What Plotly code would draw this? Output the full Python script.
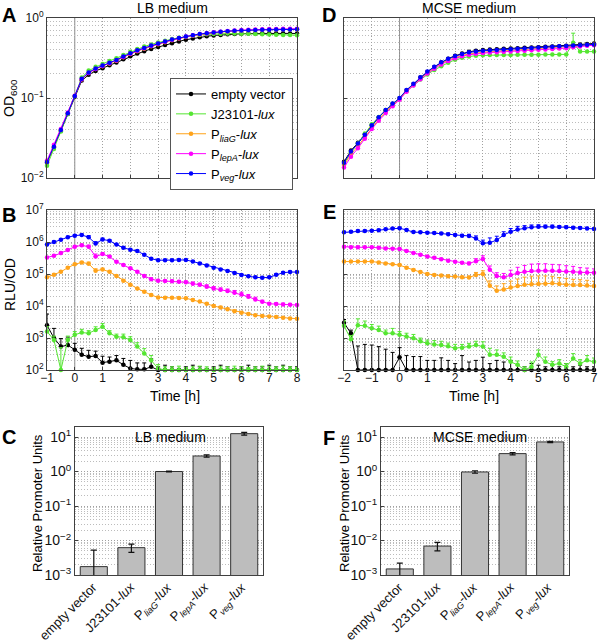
import numpy as np
import plotly.graph_objects as go

# ---------------- data ----------------
t_lb = np.arange(-1, 8.001, 0.25)   # LB medium time [h]
t_mc = np.arange(-2, 7.001, 0.25)   # MCSE medium time [h]

strains = ["empty vector", "J23101-<i>lux</i>", "P<sub><i>liaG</i></sub>-<i>lux</i>",
           "P<sub><i>lepA</i></sub>-<i>lux</i>", "P<sub><i>veg</i></sub>-<i>lux</i>"]
colors = ["#000000", "#55e632", "#ffa31a", "#ff00ff", "#0000ff"]

# OD600, LB
od_lb_empty = [0.0155, 0.024, 0.039, 0.063, 0.104, 0.165, 0.195, 0.218, 0.236, 0.256,
               0.278, 0.305, 0.333, 0.36, 0.385, 0.41, 0.435, 0.46, 0.485, 0.51,
               0.535, 0.555, 0.575, 0.59, 0.605, 0.615, 0.625, 0.63, 0.635, 0.64,
               0.642, 0.643, 0.644, 0.644, 0.643, 0.642, 0.64]
od_lb_j23101 = [0.0142, 0.023, 0.038, 0.063, 0.106, 0.18, 0.22, 0.245, 0.267, 0.29,
                0.315, 0.345, 0.378, 0.41, 0.44, 0.468, 0.495, 0.52, 0.545, 0.565,
                0.585, 0.6, 0.615, 0.625, 0.632, 0.636, 0.638, 0.638, 0.636, 0.634,
                0.63, 0.626, 0.622, 0.618, 0.615, 0.612, 0.61]
od_lb_liag = [0.0158, 0.025, 0.040, 0.065, 0.107, 0.172, 0.205, 0.23, 0.25, 0.27,
              0.293, 0.323, 0.355, 0.385, 0.413, 0.442, 0.47, 0.498, 0.527, 0.553,
              0.58, 0.602, 0.623, 0.64, 0.655, 0.668, 0.68, 0.69, 0.698, 0.705,
              0.71, 0.715, 0.718, 0.72, 0.722, 0.724, 0.725]
od_lb_lepa = [0.0165, 0.026, 0.041, 0.066, 0.107, 0.172, 0.206, 0.231, 0.251, 0.272,
              0.295, 0.326, 0.358, 0.389, 0.418, 0.447, 0.475, 0.503, 0.533, 0.559,
              0.586, 0.608, 0.629, 0.646, 0.662, 0.675, 0.688, 0.698, 0.706, 0.713,
              0.718, 0.723, 0.727, 0.73, 0.732, 0.734, 0.735]
od_lb_veg = [0.0158, 0.0245, 0.0398, 0.0646, 0.106, 0.174, 0.209, 0.234, 0.254, 0.275,
             0.299, 0.331, 0.363, 0.394, 0.422, 0.452, 0.479, 0.507, 0.537, 0.562,
             0.589, 0.610, 0.631, 0.646, 0.661, 0.673, 0.684, 0.692, 0.700, 0.705,
             0.708, 0.711, 0.714, 0.716, 0.718, 0.719, 0.721]

# OD600, MCSE
od_mc_empty = [0.016, 0.022, 0.0275, 0.035, 0.046, 0.057, 0.07, 0.084, 0.099, 0.124,
               0.149, 0.18, 0.212, 0.244, 0.278, 0.31, 0.338, 0.36, 0.378, 0.39,
               0.398, 0.404, 0.408, 0.412, 0.416, 0.42, 0.424, 0.428, 0.432, 0.436,
               0.44, 0.445, 0.45, 0.458, 0.466, 0.474, 0.48]
od_mc_j23101 = [0.015, 0.021, 0.027, 0.036, 0.047, 0.058, 0.071, 0.085, 0.099, 0.122,
                0.144, 0.17, 0.197, 0.224, 0.25, 0.276, 0.3, 0.318, 0.33, 0.338,
                0.342, 0.344, 0.344, 0.345, 0.345, 0.346, 0.347, 0.348, 0.348, 0.349,
                0.35, 0.35, 0.351, 0.49, 0.38, 0.38, 0.38]
od_mc_liag = [0.0145, 0.0198, 0.025, 0.0325, 0.043, 0.054, 0.067, 0.081, 0.097, 0.122,
              0.146, 0.176, 0.207, 0.238, 0.27, 0.298, 0.322, 0.34, 0.355, 0.366,
              0.373, 0.378, 0.383, 0.387, 0.391, 0.395, 0.4, 0.405, 0.41, 0.415,
              0.42, 0.426, 0.432, 0.44, 0.45, 0.46, 0.468]
od_mc_lepa = [0.0135, 0.0185, 0.0235, 0.031, 0.041, 0.052, 0.065, 0.079, 0.095, 0.12,
              0.143, 0.172, 0.202, 0.232, 0.263, 0.29, 0.313, 0.332, 0.347, 0.357,
              0.365, 0.37, 0.374, 0.378, 0.382, 0.386, 0.39, 0.395, 0.4, 0.405,
              0.41, 0.415, 0.42, 0.43, 0.44, 0.45, 0.458]
od_mc_veg = [0.0155, 0.0214, 0.0269, 0.0347, 0.0457, 0.0575, 0.0708, 0.0851, 0.1, 0.126,
             0.151, 0.182, 0.214, 0.245, 0.279, 0.309, 0.335, 0.355, 0.372, 0.382,
             0.389, 0.394, 0.398, 0.403, 0.407, 0.412, 0.417, 0.422, 0.427, 0.432,
             0.437, 0.442, 0.447, 0.452, 0.457, 0.462, 0.468]
err_od_mc_j23101 = [0, 0, 0, 0, 0, 0, 0, 0, 0, 0, 0, 0, 0, 0, 0, 0, 0, 0, 0, 0,
                    0, 0, 0, 0, 0, 0, 0, 0, 0, 0, 0, 0, 0, 0.12, 0, 0, 0]

# RLU/OD, LB
rlu_lb_empty = [2500, 1000, 540, 600, 430, 300, 260, 275, 170, 180,
                200, 145, 112, 105, 105, 126, 100, 100, 100, 100,
                100, 100, 100, 100, 100, 100, 100, 100, 100, 100,
                100, 100, 100, 100, 100, 100, 100]
rlu_lb_j23101 = [1600, 870, 100, 870, 1260, 1480, 1410, 1780, 2240, 1410,
                 1100, 1050, 870, 540, 330, 200, 112, 100, 100, 100,
                 100, 100, 100, 100, 100, 100, 100, 100, 100, 100,
                 100, 100, 100, 100, 100, 100, 100]
rlu_lb_liag = [7.9e4, 9.5e4, 1.17e5, 1.58e5, 2.0e5, 2.3e5, 2.1e5, 1.26e5, 1.38e5, 1.17e5,
               8.7e4, 6.2e4, 4.6e4, 3.5e4, 2.8e4, 2.2e4, 1.86e4, 1.82e4, 1.82e4, 1.78e4,
               1.74e4, 1.55e4, 1.38e4, 1.17e4, 1.0e4, 8.9e3, 7.9e3, 6.9e3, 6.2e3, 5.6e3,
               5.1e3, 4.9e3, 4.7e3, 4.5e3, 4.3e3, 4.1e3, 4.0e3]
rlu_lb_lepa = [3.3e5, 3.7e5, 4.5e5, 5.6e5, 7.1e5, 7.9e5, 7.1e5, 3.5e5, 4.2e5, 3.5e5,
               2.4e5, 1.9e5, 1.5e5, 1.17e5, 8.7e4, 6.9e4, 6.2e4, 6.0e4, 5.9e4, 5.75e4,
               5.5e4, 5.0e4, 4.6e4, 4.0e4, 3.5e4, 3.2e4, 2.95e4, 2.6e4, 2.3e4, 1.95e4,
               1.6e4, 1.35e4, 1.17e4, 1.15e4, 1.12e4, 1.1e4, 1.07e4]
rlu_lb_veg = [8.3e5, 1.0e6, 1.17e6, 1.41e6, 1.58e6, 1.66e6, 1.41e6, 8.9e5, 1.2e6, 1.1e6,
              8.3e5, 6.6e5, 5.75e5, 5.25e5, 4.0e5, 3.0e5, 2.7e5, 2.7e5, 2.7e5, 2.75e5,
              2.75e5, 2.45e5, 2.14e5, 1.86e5, 1.58e5, 1.38e5, 1.23e5, 1.07e5, 9.3e4, 8.5e4,
              7.9e4, 7.6e4, 7.9e4, 9.5e4, 1.1e5, 1.15e5, 1.15e5]
# upper error bars, in decades above the value
err_rlu_lb_empty = [0.35, 0.3, 0.25, 0.25, 0.2, 0.2, 0.2, 0.15, 0.2, 0.15,
                    0.15, 0.2, 0.25, 0.2, 0.2, 0.25, 0.1, 0.15, 0.1, 0.05,
                    0.1, 0.15, 0.1, 0.05, 0.1, 0.15, 0.1, 0.05, 0.1, 0.15,
                    0.1, 0.1, 0.15, 0.1, 0.15, 0.1, 0.1]
err_rlu_lb_j23101 = [0.15, 0.12, 0.7, 0.12, 0.1, 0.1, 0.08, 0.1, 0.1, 0.08,
                     0.08, 0.1, 0.1, 0.12, 0.15, 0.15, 0.12, 0.1, 0.1, 0.12,
                     0.08, 0.1, 0.12, 0.1, 0.08, 0.1, 0.1, 0.12, 0.1, 0.08,
                     0.1, 0.12, 0.1, 0.1, 0.12, 0.1, 0.08]
err_rlu_lb_liag = [0.03, 0.03, 0.03, 0.03, 0.03, 0.03, 0.05, 0.06, 0.04, 0.03,
                   0.03, 0.03, 0.03, 0.03, 0.03, 0.03, 0.03, 0.03, 0.03, 0.03,
                   0.03, 0.03, 0.03, 0.03, 0.04, 0.04, 0.04, 0.04, 0.04, 0.03,
                   0.03, 0.03, 0.03, 0.03, 0.03, 0.03, 0.03]
err_rlu_lb_lepa = [0.03, 0.03, 0.03, 0.03, 0.03, 0.03, 0.05, 0.08, 0.04, 0.03,
                   0.03, 0.03, 0.03, 0.03, 0.03, 0.04, 0.04, 0.04, 0.04, 0.04,
                   0.04, 0.05, 0.05, 0.06, 0.06, 0.06, 0.06, 0.07, 0.07, 0.07,
                   0.07, 0.05, 0.04, 0.04, 0.04, 0.04, 0.03]
err_rlu_lb_veg = [0.03, 0.03, 0.03, 0.03, 0.03, 0.03, 0.05, 0.06, 0.04, 0.03,
                  0.03, 0.03, 0.03, 0.03, 0.03, 0.03, 0.03, 0.03, 0.03, 0.03,
                  0.03, 0.03, 0.03, 0.03, 0.03, 0.03, 0.03, 0.03, 0.03, 0.03,
                  0.03, 0.03, 0.03, 0.03, 0.03, 0.03, 0.03]

# RLU/OD, MCSE
rlu_mc_empty = [3000, 1400, 100, 100, 100, 100, 100, 100, 250, 100,
                100, 100, 100, 100, 100, 100, 100, 100, 100, 100,
                100, 100, 100, 100, 100, 100, 100, 100, 100, 100,
                100, 100, 100, 100, 100, 100, 100]
rlu_mc_j23101 = [2400, 910, 2500, 2400, 2000, 1780, 1410, 1410, 1260, 1120,
                 980, 790, 680, 630, 600, 550, 480, 500, 540, 600,
                 540, 300, 300, 260, 180, 145, 100, 126, 300, 180,
                 145, 160, 126, 230, 160, 200, 180]
rlu_mc_liag = [2.45e5, 2.45e5, 2.45e5, 2.45e5, 2.45e5, 2.3e5, 2.14e5, 2.0e5, 1.9e5, 1.58e5,
               1.33e5, 1.15e5, 1.0e5, 9.3e4, 8.9e4, 8.5e4, 8.3e4, 7.9e4, 7.8e4, 9.3e4,
               1.0e5, 4.3e4, 3.0e4, 3.3e4, 3.8e4, 4.2e4, 4.6e4, 4.8e4, 4.9e4, 5.0e4,
               5.1e4, 4.9e4, 4.6e4, 4.5e4, 4.5e4, 4.4e4, 4.2e4]
rlu_mc_lepa = [7.1e5, 6.9e5, 6.9e5, 6.8e5, 6.8e5, 6.6e5, 6.3e5, 6.2e5, 6.0e5, 5.25e5,
               4.5e5, 4.0e5, 3.5e5, 3.2e5, 2.9e5, 2.6e5, 2.4e5, 2.24e5, 2.14e5, 2.5e5,
               2.95e5, 1.35e5, 8.7e4, 7.9e4, 9.3e4, 1.07e5, 1.17e5, 1.23e5, 1.26e5, 1.26e5,
               1.26e5, 1.23e5, 1.2e5, 1.17e5, 1.12e5, 1.11e5, 1.1e5]
rlu_mc_veg = [2.0e6, 2.1e6, 2.2e6, 2.2e6, 2.24e6, 2.34e6, 2.5e6, 2.63e6, 2.7e6, 2.37e6,
              2.04e6, 2.0e6, 1.95e6, 1.9e6, 1.86e6, 1.76e6, 1.66e6, 1.58e6, 1.55e6, 1.29e6,
              9.1e5, 9.5e5, 1.15e6, 1.66e6, 2.1e6, 2.45e6, 2.7e6, 2.9e6, 3.0e6, 3.0e6,
              3.0e6, 2.95e6, 2.9e6, 2.8e6, 2.75e6, 2.63e6, 2.57e6]
err_rlu_mc_empty = [0.1, 0.1, 0.75, 0.8, 0.78, 0.73, 0.65, 0.55, 0.3, 0.45,
                    0.42, 0.42, 0.3, 0.3, 0.38, 0.3, 0.2, 0.45, 0.25, 0.3,
                    0.4, 0.2, 0.3, 0.25, 0.3, 0.15, 0.1, 0.2, 0.15, 0.1,
                    0.15, 0.1, 0.2, 0.1, 0.15, 0.1, 0.1]
err_rlu_mc_j23101 = [0.15, 0.12, 0.2, 0.15, 0.12, 0.12, 0.1, 0.15, 0.1, 0.1,
                     0.12, 0.1, 0.1, 0.12, 0.12, 0.1, 0.12, 0.1, 0.1, 0.12,
                     0.15, 0.2, 0.15, 0.12, 0.15, 0.12, 0.1, 0.15, 0.15, 0.15,
                     0.1, 0.12, 0.1, 0.15, 0.12, 0.15, 0.12]
err_rlu_mc_liag = [0.03, 0.03, 0.03, 0.03, 0.03, 0.03, 0.03, 0.03, 0.03, 0.03,
                   0.03, 0.03, 0.03, 0.03, 0.03, 0.03, 0.03, 0.03, 0.04, 0.08,
                   0.1, 0.15, 0.15, 0.18, 0.2, 0.22, 0.24, 0.25, 0.25, 0.24,
                   0.22, 0.2, 0.2, 0.18, 0.17, 0.16, 0.15]
err_rlu_mc_lepa = [0.03, 0.03, 0.03, 0.03, 0.03, 0.03, 0.03, 0.03, 0.03, 0.03,
                   0.03, 0.03, 0.03, 0.03, 0.03, 0.03, 0.03, 0.03, 0.04, 0.08,
                   0.1, 0.12, 0.1, 0.12, 0.15, 0.18, 0.2, 0.22, 0.22, 0.22,
                   0.2, 0.2, 0.18, 0.17, 0.15, 0.14, 0.12]
err_rlu_mc_veg = [0.03, 0.03, 0.03, 0.03, 0.03, 0.03, 0.03, 0.03, 0.03, 0.03,
                  0.03, 0.03, 0.03, 0.03, 0.03, 0.03, 0.03, 0.04, 0.05, 0.08,
                  0.1, 0.15, 0.12, 0.1, 0.1, 0.1, 0.08, 0.07, 0.06, 0.05,
                  0.05, 0.04, 0.04, 0.04, 0.04, 0.04, 0.03]

# Relative promoter units (bar charts)
bar_labels = ["empty vector", "J23101-<i>lux</i>", "P<sub><i>liaG</i></sub>-<i>lux</i>",
              "P<sub><i>lepA</i></sub>-<i>lux</i>", "P<sub><i>veg</i></sub>-<i>lux</i>"]
rpu_lb = [1.75e-3, 6.2e-3, 1.0, 2.82, 12.5]
rpu_lb_err = [3.5e-3, 1.7e-3, 0.03, 0.2, 1.2]
rpu_mc = [1.5e-3, 6.9e-3, 0.97, 3.3, 7.2]
rpu_mc_err = [0.7e-3, 1.9e-3, 0.08, 0.25, 0.3]

# ---------------- layout helpers ----------------
W, H = 600, 642
FONT = "Liberation Sans, Arial, Helvetica, sans-serif"
GRID = "#a0a0a0"
MINOR = "#bcbcbc"
DOT = "1px,2px"
FRAME = "#404040"


def px_x(a, b):
    return [a / W, b / W]


def px_y(top, bottom):
    return [1 - bottom / H, 1 - top / H]


def sup_labels(exps):
    return ["10<sup>%s</sup>" % (str(e).replace("-", "\u2212")) for e in exps]


fig = go.Figure()


def add_series(t, vals, errs, xa, ya, idx, showlegend=False):
    v = np.array(vals, dtype=float)
    err = None
    if errs is not None:
        up = v * (10 ** np.array(errs, dtype=float) - 1)
        err = dict(type="data", symmetric=False, array=up, arrayminus=np.zeros_like(up),
                   width=2, thickness=1, color=colors[idx])
    fig.add_trace(go.Scatter(
        x=t, y=v, mode="lines+markers", name=strains[idx],
        line=dict(color=colors[idx], width=1),
        marker=dict(size=4.5, color=colors[idx]),
        error_y=err, showlegend=showlegend, cliponaxis=False,
        xaxis=xa, yaxis=ya))


od_lb = [od_lb_empty, od_lb_j23101, od_lb_liag, od_lb_lepa, od_lb_veg]
od_mc = [od_mc_empty, od_mc_j23101, od_mc_liag, od_mc_lepa, od_mc_veg]
od_mc_err = [None, err_od_mc_j23101, None, None, None]
rlu_lb = [rlu_lb_empty, rlu_lb_j23101, rlu_lb_liag, rlu_lb_lepa, rlu_lb_veg]
rlu_lb_err = [err_rlu_lb_empty, err_rlu_lb_j23101, err_rlu_lb_liag, err_rlu_lb_lepa, err_rlu_lb_veg]
rlu_mc = [rlu_mc_empty, rlu_mc_j23101, rlu_mc_liag, rlu_mc_lepa, rlu_mc_veg]
rlu_mc_err = [err_rlu_mc_empty, err_rlu_mc_j23101, err_rlu_mc_liag, err_rlu_mc_lepa, err_rlu_mc_veg]

for i in range(5):
    add_series(t_lb, od_lb[i], None, "x", "y", i, showlegend=True)
for i in range(5):
    add_series(t_mc, od_mc[i], od_mc_err[i], "x2", "y2", i)
for i in range(5):
    add_series(t_lb, rlu_lb[i], rlu_lb_err[i], "x3", "y3", i)
for i in range(5):
    add_series(t_mc, rlu_mc[i], rlu_mc_err[i], "x4", "y4", i)

bar_x = list(range(5))
for vals, errs, xa, ya in [(rpu_lb, rpu_lb_err, "x5", "y5"), (rpu_mc, rpu_mc_err, "x6", "y6")]:
    fig.add_trace(go.Bar(x=bar_x, y=vals, width=0.72, xaxis=xa, yaxis=ya,
                         marker=dict(color="#bdbdbd", line=dict(color="#333333", width=1)),
                         error_y=dict(type="data", array=errs, width=3, thickness=1.2, color="#111"),
                         showlegend=False))


# ---------------- axes ----------------
def time_axis(domain, rng, labels, anchor):
    return dict(domain=domain, range=rng, dtick=1, tick0=0, anchor=anchor,
                showgrid=True, gridcolor=GRID, griddash=DOT, gridwidth=1,
                zeroline=False, showline=True, mirror=True, linecolor=FRAME, linewidth=1,
                ticks="inside", ticklen=3, tickcolor=FRAME,
                ticklabelstandoff=-3, ticklabeloverflow="allow",
                showticklabels=labels, tickfont=dict(size=12, family=FONT, color="#111"))


def log_axis(domain, rng, exps, labels, anchor, tfs=12):
    return dict(domain=domain, type="log", range=rng, anchor=anchor,
                tickmode="array", tickvals=[10.0 ** e for e in exps],
                ticktext=sup_labels(exps), showticklabels=labels,
                showgrid=True, gridcolor=GRID, griddash=DOT, gridwidth=1,
                minor=dict(dtick="D1", showgrid=True, gridcolor=MINOR, griddash=DOT,
                           gridwidth=1, ticks=""),
                zeroline=False, showline=True, mirror=True, linecolor=FRAME, linewidth=1,
                ticks="inside", ticklen=3, tickcolor=FRAME, ticklabeloverflow="allow",
                tickfont=dict(size=tfs, family=FONT, color="#111"))


def bar_xaxis(domain, anchor):
    return dict(domain=domain, range=[-0.5, 4.5], anchor=anchor, tickmode="array",
                tickvals=bar_x, showticklabels=False,
                showgrid=False, zeroline=False, showline=True, mirror=True,
                linecolor=FRAME, linewidth=1, ticks="")


xA, xD = px_x(47, 297), px_x(344, 594)
yA, yB = px_y(18, 178), px_y(210, 370)
xC, xF = px_x(75, 263), px_x(381, 569)
yC = px_y(427, 575)

layout_axes = dict(
    xaxis=time_axis(xA, [-1, 8], False, "y"),
    yaxis=log_axis(yA, [-2, 0], [-2, -1, 0], True, "x"),
    xaxis2=time_axis(xD, [-2, 7], False, "y2"),
    yaxis2=log_axis(yA, [-2, 0], [-2, -1, 0], False, "x2"),
    xaxis3=time_axis(xA, [-1, 8], True, "y3"),
    yaxis3=log_axis(yB, [2, 7], [2, 3, 4, 5, 6, 7], True, "x3"),
    xaxis4=time_axis(xD, [-2, 7], True, "y4"),
    yaxis4=log_axis(yB, [2, 7], [2, 3, 4, 5, 6, 7], False, "x4"),
    xaxis5=bar_xaxis(xC, "y5"),
    yaxis5=log_axis(yC, [-3, 1.29], [-3, -2, -1, 0, 1], True, "x5", tfs=14),
    xaxis6=bar_xaxis(xF, "y6"),
    yaxis6=log_axis(yC, [-3, 1.29], [-3, -2, -1, 0, 1], True, "x6", tfs=14),
)

# reference lines at t = 0 and OD = 0.1
shapes = []
for xa, ya in [("x", "y"), ("x2", "y2"), ("x3", "y3"), ("x4", "y4")]:
    shapes.append(dict(type="line", xref=xa, yref=ya + " domain", x0=0, x1=0, y0=0, y1=1,
                       line=dict(color="#8c8c8c", width=1), layer="below"))
for xa, ya in [("x", "y"), ("x2", "y2")]:
    shapes.append(dict(type="line", xref=xa + " domain", yref=ya, x0=0, x1=1, y0=-1, y1=-1,
                       line=dict(color="#8c8c8c", width=1), layer="below"))


def ann(text, x, y, size=14, bold=False, angle=0):
    return dict(text=("<b>%s</b>" % text) if bold else text, x=x / W, y=1 - y / H,
                xref="paper", yref="paper", showarrow=False, textangle=angle,
                xanchor="center", yanchor="middle",
                font=dict(size=size, family=FONT, color="#000"))


annotations = [
    ann("A", 9, 15, 20, True), ann("B", 9, 215, 20, True), ann("C", 9, 437, 20, True),
    ann("D", 329, 15, 20, True), ann("E", 329, 212, 20, True), ann("F", 329, 438, 20, True),
    ann("LB medium", 172, 8), ann("MCSE medium", 469, 8),
    ann("OD<sub>600</sub>", 10, 98, 14, angle=-90),
    ann("RLU/OD", 10, 285, 14, angle=-90),
    ann("Time [h]", 175, 396), ann("Time [h]", 474, 396),
    ann("Relative Promoter Units", 37, 503, 13, angle=-90),
    ann("Relative Promoter Units", 344, 503, 13, angle=-90),
    ann("LB medium", 170, 437), ann("MCSE medium", 480, 437),
]
# rotated category labels under the bar charts
for xa in ["x5", "x6"]:
    for i, lab in enumerate(bar_labels):
        annotations.append(dict(text=lab, x=bar_x[i], xref=xa, y=1 - 577 / H, yref="paper",
                                xshift=9, showarrow=False, textangle=-45,
                                xanchor="right", yanchor="top",
                                font=dict(size=13, family=FONT, color="#111")))

fig.update_layout(
    width=W, height=H, margin=dict(l=0, r=0, t=0, b=0),
    paper_bgcolor="white", plot_bgcolor="white", template="none",
    font=dict(family=FONT, size=12, color="#111"),
    shapes=shapes, annotations=annotations,
    legend=dict(x=293 / W, y=1 - 78 / H, xanchor="right", yanchor="top",
                bgcolor="white", bordercolor="#555", borderwidth=1,
                font=dict(size=13, family=FONT, color="#000"),
                itemwidth=30, tracegroupgap=0),
    **layout_axes,
)

fig.write_html("out.html", config={"displayModeBar": False},
               post_script="document.body.style.margin='0px';"
                           "document.body.style.overflow='hidden';")
